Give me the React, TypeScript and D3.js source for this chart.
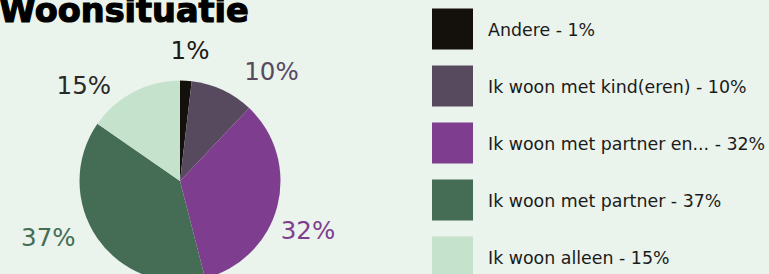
import React, { useRef, useEffect } from "react";
import { select, pie, arc, PieArcDatum } from "d3";

// slices, clockwise from 12 o'clock
const categories = [
  "Andere",
  "Ik woon met kind(eren)",
  "Ik woon met partner en...",
  "Ik woon met partner",
  "Ik woon alleen",
];
const shares = [1.86, 10.22, 33.9, 38.67, 15.35];
const shownPct = [1, 10, 32, 37, 15];
const sliceColors = ["#14110d", "#574a5e", "#7e3d8f", "#456d56", "#c5e3cc"];
const labelColors = ["#1c1a17", "#574a5e", "#7e3d8f", "#456d56", "#2a2a28"];

interface Slice {
  name: string;
  value: number;
  pct: number;
  color: string;
  labelColor: string;
}

const W = 769;
const H = 274;
const cx = 180;
const cy = 181;
const radius = 100.5;
const font = "'DejaVu Sans', sans-serif";
// label layout: angle nudge (deg) from the slice mid angle, and distance
const labelNudge = [1.05, 14.7, 6.4, 11.9, -17.4];
const labelDist = [131, 143, 137, 143, 136];

const PieChart: React.FC = () => {
  const svgRef = useRef<SVGSVGElement>(null);

  useEffect(() => {
    const data: Slice[] = categories.map((name, i) => ({
      name,
      value: shares[i],
      pct: shownPct[i],
      color: sliceColors[i],
      labelColor: labelColors[i],
    }));
    const svg = select(svgRef.current);
    svg.selectAll("*").remove();

    svg.append("rect").attr("width", W).attr("height", H).attr("fill", "#eaf3ec");

    svg
      .append("text")
      .text("Woonsituatie")
      .attr("x", -1)
      .attr("y", 22)
      .attr("font-family", font)
      .attr("font-weight", "bold")
      .attr("font-size", 33.5)
      .attr("stroke", "#000")
      .attr("stroke-width", 1.2)
      .attr("fill", "#000");

    const arcs = pie<Slice>()
      .value((d) => d.value)
      .sort(null)(data);
    const arcGen = arc<PieArcDatum<Slice>>().innerRadius(0).outerRadius(radius);

    const g = svg.append("g").attr("transform", `translate(${cx},${cy})`);
    g.selectAll("path")
      .data(arcs)
      .join("path")
      .attr("d", arcGen)
      .attr("fill", (d) => d.data.color);

    g.selectAll("text")
      .data(arcs)
      .join("text")
      .text((d) => `${d.data.pct}%`)
      .attr("transform", (d, i) => {
        const a = (d.startAngle + d.endAngle) / 2 + (labelNudge[i] * Math.PI) / 180;
        const r = labelDist[i];
        return `translate(${r * Math.sin(a)},${-r * Math.cos(a)})`;
      })
      .attr("text-anchor", "middle")
      .attr("dy", "0.36em")
      .attr("font-family", font)
      .attr("font-size", 24.5)
      .attr("fill", (d) => d.data.labelColor);

    const legend = svg
      .append("g")
      .selectAll("g")
      .data(data)
      .join("g")
      .attr("transform", (_, i) => `translate(432,${8.5 + i * 57})`);
    legend
      .append("rect")
      .attr("width", 41)
      .attr("height", 41)
      .attr("fill", (d) => d.color);
    legend
      .append("text")
      .text((d) => `${d.name} - ${d.pct}%`)
      .attr("x", 56)
      .attr("y", 27.5)
      .attr("font-family", font)
      .attr("font-size", 17.4)
      .attr("fill", "#1b1b1b");
  }, []);

  return <svg ref={svgRef} width={W} height={H} style={{ display: "block" }}></svg>;
};

export default function App() {
  return (
    <div style={{ position: "fixed", left: 0, top: 0, width: W, height: H }}>
      <PieChart />
    </div>
  );
}
